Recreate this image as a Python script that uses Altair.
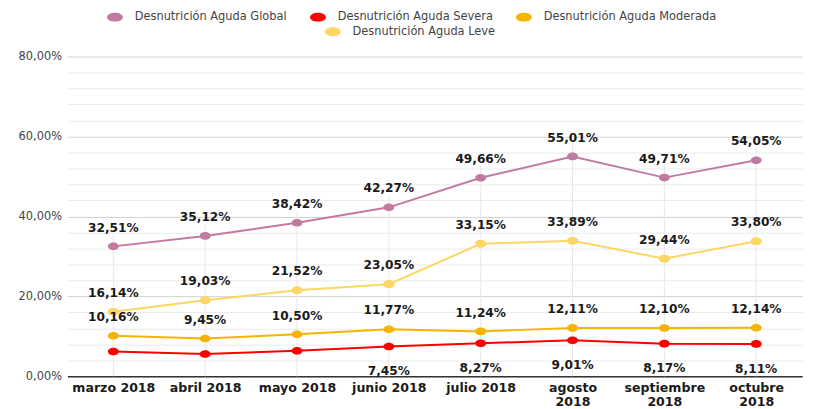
import altair as alt
import pandas as pd

months = ["marzo 2018", "abril 2018", "mayo 2018", "junio 2018",
          "julio 2018", "agosto 2018", "septiembre 2018", "octubre 2018"]
series_names = ["Desnutrición Aguda Global", "Desnutrición Aguda Severa",
                "Desnutrición Aguda Moderada", "Desnutrición Aguda Leve"]
series_colors = ["#c27ba0", "#ff0000", "#f4b400", "#fdd663"]

global_vals = [32.51, 35.12, 38.42, 42.27, 49.66, 55.01, 49.71, 54.05]
severa_vals = [6.21, 5.60, 6.40, 7.45, 8.27, 9.01, 8.17, 8.11]
moderada_vals = [10.16, 9.45, 10.50, 11.77, 11.24, 12.11, 12.10, 12.14]
leve_vals = [16.14, 19.03, 21.52, 23.05, 33.15, 33.89, 29.44, 33.80]

# which value labels are visible in the original
severa_label_shown = [False, False, False, True, True, True, True, True]

rows = []
for name, vals in zip(series_names, [global_vals, severa_vals, moderada_vals, leve_vals]):
    for i, (m, v) in enumerate(zip(months, vals)):
        show = severa_label_shown[i] if name == series_names[1] else True
        rows.append({"mes": m, "serie": name, "valor": v, "show": show,
                     "pos": "below" if name == series_names[1] else "above"})
df = pd.DataFrame(rows)

FONT = "DejaVu Sans"
ellipse_legend = "M-1,0A1,0.56,0,1,1,1,0A1,0.56,0,1,1,-1,0Z"
ellipse_point = "M-1,0A1,0.7,0,1,1,1,0A1,0.7,0,1,1,-1,0Z"

x_enc = alt.X(
    "mes:N", sort=months, title=None,
    scale=alt.Scale(type="point", padding=0.5),
    axis=alt.Axis(
        labelAngle=0, ticks=False, grid=False, domain=True,
        domainColor="#333333", domainWidth=1.5,
        labelFont=FONT, labelFontWeight="bold", labelFontSize=12.7,
        labelColor="#1a1a1a", labelPadding=5, labelLineHeight=14,
        labelExpr="indexof(['agosto 2018','septiembre 2018','octubre 2018'], datum.value) >= 0 ? split(datum.value, ' ') : datum.value",
    ),
)
y_enc = alt.Y(
    "valor:Q", title=None,
    scale=alt.Scale(domain=[0, 80], nice=False, zero=True),
    axis=alt.Axis(
        values=list(range(0, 81, 4)), ticks=False, domain=False,
        labelFont=FONT, labelFontSize=11.5, labelColor="#444444", labelPadding=6,
        labelExpr="datum.value % 20 === 0 ? replace(format(datum.value, '.2f'), '.', ',') + '%' : ''",
        gridColor={"condition": {"test": "datum.value % 20 === 0", "value": "#d0d0d0"},
                   "value": "#ebebeb"},
        gridWidth=1,
    ),
)

base = alt.Chart(df)

legend_common = dict(
    title=None, orient="none", direction="horizontal",
    symbolType=ellipse_legend, symbolSize=256, symbolStrokeWidth=0,
    labelFont=FONT, labelFontSize=11.5, labelColor="#444444", labelLimit=400,
    labelOffset=12, columnPadding=23,
)

rules = base.transform_filter(
    alt.datum.serie == series_names[0]
).mark_rule(color="#e8e8e8", strokeWidth=1, yOffset=-12).encode(
    x=x_enc, y=y_enc, y2=alt.datum(0)
)

# stroke scale listed in reverse order so it stays a separate (legend-less) scale
lines = base.mark_line(strokeWidth=2).encode(
    x=x_enc, y=y_enc,
    stroke=alt.Stroke("serie:N",
                      scale=alt.Scale(domain=series_names[::-1], range=series_colors[::-1]),
                      legend=None),
    detail="serie:N",
)

points = base.mark_point(shape=ellipse_point, size=121, filled=True, opacity=1).encode(
    x=x_enc, y=y_enc,
    color=alt.Color(
        "serie:N", scale=alt.Scale(domain=series_names, range=series_colors),
        legend=alt.Legend(values=series_names[:3], legendX=40, legendY=-48,
                          **legend_common),
    ),
)

leve_points = base.transform_filter(
    alt.datum.serie == series_names[3]
).transform_calculate(
    serie_leve="datum.serie"
).mark_point(shape=ellipse_point, size=121, filled=True, opacity=1).encode(
    x=x_enc, y=y_enc,
    fill=alt.Fill(
        "serie_leve:N", scale=alt.Scale(domain=series_names[3:], range=series_colors[3:]),
        legend=alt.Legend(legendX=260, legendY=-33, **legend_common),
    ),
)

label_expr = "replace(format(datum.valor, '.2f'), '.', ',') + '%'"

labels_above = base.transform_filter(
    (alt.datum.pos == "above") & alt.datum.show
).transform_calculate(txt=label_expr).mark_text(
    font=FONT, fontWeight="bold", fontSize=12.3, color="#1a1a1a",
    baseline="middle", align="center", dy=-19,
).encode(x=x_enc, y=y_enc, text="txt:N")

labels_below = base.transform_filter(
    (alt.datum.pos == "below") & alt.datum.show
).transform_calculate(txt=label_expr).mark_text(
    font=FONT, fontWeight="bold", fontSize=12.3, color="#1a1a1a",
    baseline="middle", align="center", dy=25,
).encode(x=x_enc, y=y_enc, text="txt:N")

chart = alt.layer(
    rules, lines, points, leve_points, labels_above, labels_below
).properties(
    width=742, height=323,
    autosize=alt.AutoSizeParams(type="none"),
    padding={"left": 60, "top": 47, "right": 13, "bottom": 31},
).configure_view(stroke=None).configure_legend(padding=0)

chart.save("out.html", embed_options={"renderer": "svg", "actions": False})
